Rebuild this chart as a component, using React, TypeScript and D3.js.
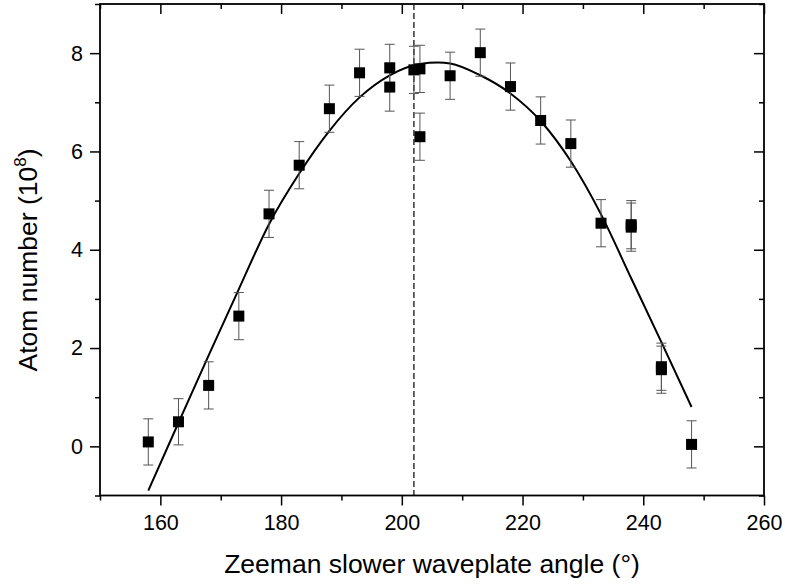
import { useEffect, useRef } from 'react';
import * as d3 from 'd3';

// measured points (angle in degrees, atom number in 1e8)
const angles = [158, 163, 168, 173, 178, 183, 188, 193, 198, 198, 202, 203, 203, 208, 213, 218, 223, 228, 233, 238, 238, 243, 243, 248];
const atoms = [0.09, 0.5, 1.24, 2.65, 4.73, 5.72, 6.87, 7.6, 7.7, 7.31, 7.66, 7.68, 6.3, 7.54, 8.01, 7.32, 6.63, 6.16, 4.54, 4.51, 4.46, 1.62, 1.56, 0.04];
const errors = [0.47, 0.47, 0.48, 0.48, 0.48, 0.48, 0.48, 0.48, 0.48, 0.49, 0.48, 0.48, 0.48, 0.48, 0.48, 0.48, 0.48, 0.48, 0.48, 0.49, 0.49, 0.48, 0.48, 0.48];

// fitted curve
const fitAngles = [158, 163, 168, 173, 178, 183, 188, 193, 198, 203, 206, 208, 213, 218, 223, 228, 233, 238, 243, 248];
const fitAtoms = [-0.9, 0.48, 1.85, 3.2, 4.52, 5.55, 6.42, 7.1, 7.55, 7.78, 7.81, 7.79, 7.55, 7.18, 6.62, 5.8, 4.72, 3.42, 2.12, 0.8];

const markerAngle = 202;

const xMajor = [160, 180, 200, 220, 240, 260];
const xMinor = [150, 170, 190, 210, 230, 250];
const yMajor = [0, 2, 4, 6, 8];
const yMinor = [-1, 1, 3, 5, 7, 9];

const FONT = '"Liberation Sans", Arial, sans-serif';

export default function App() {
  const svgRef = useRef<SVGSVGElement>(null);

  useEffect(() => {
    if (!svgRef.current) return;
    const root = d3.select(svgRef.current);
    root.selectAll('*').remove();

    const W = 785;
    const H = 585;
    const margin = { top: 4, right: 21, bottom: 89.5, left: 100 };
    const width = W - margin.left - margin.right;
    const height = H - margin.top - margin.bottom;

    const svg = root
      .attr('width', W)
      .attr('height', H)
      .append('g')
      .attr('transform', `translate(${margin.left},${margin.top})`);

    const x = d3.scaleLinear().domain([150, 260]).range([0, width]);
    const y = d3.scaleLinear().domain([-1, 9]).range([height, 0]);

    // dashed marker line
    svg
      .append('line')
      .attr('x1', x(markerAngle))
      .attr('x2', x(markerAngle))
      .attr('y1', 0)
      .attr('y2', height)
      .attr('stroke', '#333')
      .attr('stroke-width', 1.5)
      .attr('stroke-dasharray', '6,3');

    // fit line
    const fit = fitAngles.map((a, i) => ({ a, v: fitAtoms[i] }));
    const line = d3
      .line<{ a: number; v: number }>()
      .x(d => x(d.a))
      .y(d => y(d.v))
      .curve(d3.curveMonotoneX);

    svg
      .append('path')
      .datum(fit)
      .attr('d', line)
      .attr('fill', 'none')
      .attr('stroke', '#000')
      .attr('stroke-width', 2);

    const pts = angles.map((a, i) => ({ a, v: atoms[i], e: errors[i] }));

    // error bars
    const eb = svg
      .selectAll('.err')
      .data(pts)
      .enter()
      .append('g')
      .attr('class', 'err')
      .attr('stroke', '#555')
      .attr('stroke-width', 1);

    eb.append('line')
      .attr('x1', d => x(d.a))
      .attr('x2', d => x(d.a))
      .attr('y1', d => y(d.v + d.e))
      .attr('y2', d => y(d.v - d.e));
    eb.append('line')
      .attr('x1', d => x(d.a) - 5)
      .attr('x2', d => x(d.a) + 5)
      .attr('y1', d => y(d.v + d.e))
      .attr('y2', d => y(d.v + d.e));
    eb.append('line')
      .attr('x1', d => x(d.a) - 5)
      .attr('x2', d => x(d.a) + 5)
      .attr('y1', d => y(d.v - d.e))
      .attr('y2', d => y(d.v - d.e));

    // square markers
    const s = 11;
    svg
      .selectAll('.dot')
      .data(pts)
      .enter()
      .append('rect')
      .attr('class', 'dot')
      .attr('x', d => x(d.a) - s / 2)
      .attr('y', d => y(d.v) - s / 2)
      .attr('width', s)
      .attr('height', s)
      .attr('fill', '#000');

    // axes
    const styleAxis = (g: d3.Selection<SVGGElement, unknown, null, undefined>) => {
      g.select('.domain').remove();
      g.selectAll('.tick line').attr('stroke', '#000').attr('stroke-width', 1.5);
      g.selectAll('text').attr('font-family', FONT).attr('font-size', 21.5).attr('fill', '#000');
    };

    svg
      .append('g')
      .attr('transform', `translate(0,${height})`)
      .call(d3.axisBottom(x).tickValues(xMajor).tickSize(10).tickPadding(9).tickFormat(d3.format('d')))
      .call(styleAxis);
    svg
      .append('g')
      .attr('transform', `translate(0,${height})`)
      .call(d3.axisBottom(x).tickValues(xMinor).tickSize(5).tickFormat(() => ''))
      .call(styleAxis);
    svg
      .append('g')
      .call(d3.axisTop(x).tickValues(xMajor).tickSize(-10).tickFormat(() => ''))
      .call(styleAxis);
    svg
      .append('g')
      .call(d3.axisTop(x).tickValues(xMinor).tickSize(-5).tickFormat(() => ''))
      .call(styleAxis);

    svg
      .append('g')
      .call(d3.axisLeft(y).tickValues(yMajor).tickSize(10).tickPadding(7).tickFormat(d3.format('d')))
      .call(styleAxis);
    svg
      .append('g')
      .call(d3.axisLeft(y).tickValues(yMinor).tickSize(5).tickFormat(() => ''))
      .call(styleAxis);
    svg
      .append('g')
      .attr('transform', `translate(${width},0)`)
      .call(d3.axisRight(y).tickValues(yMajor).tickSize(-10).tickFormat(() => ''))
      .call(styleAxis);
    svg
      .append('g')
      .attr('transform', `translate(${width},0)`)
      .call(d3.axisRight(y).tickValues(yMinor).tickSize(-5).tickFormat(() => ''))
      .call(styleAxis);

    // frame
    svg
      .append('rect')
      .attr('x', 0)
      .attr('y', 0)
      .attr('width', width)
      .attr('height', height)
      .attr('fill', 'none')
      .attr('stroke', '#000')
      .attr('stroke-width', 1.8);

    // axis titles
    svg
      .append('text')
      .attr('x', width / 2)
      .attr('y', height + 77.5)
      .attr('text-anchor', 'middle')
      .attr('font-family', FONT)
      .attr('font-size', 26.5)
      .text('Zeeman slower waveplate angle (°)');

    const yt = svg
      .append('text')
      .attr('transform', `translate(${37 - margin.left},${260 - margin.top}) rotate(-90)`)
      .attr('text-anchor', 'middle')
      .attr('font-family', FONT)
      .attr('font-size', 26.5);
    yt.append('tspan').text('Atom number (10');
    yt.append('tspan').attr('font-size', 17).attr('dy', -11).text('8');
    yt.append('tspan').attr('dy', 11).text(')');
  }, []);

  return (
    <div style={{ position: 'absolute', left: 0, top: 0 }}>
      <svg ref={svgRef}></svg>
    </div>
  );
}
